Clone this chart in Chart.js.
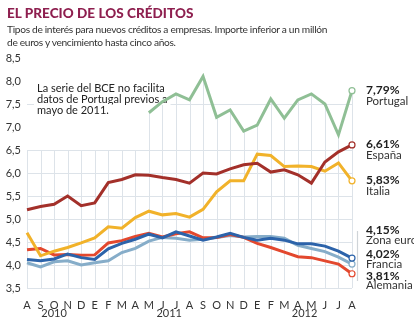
<!DOCTYPE html>
<html>
<head>
<meta charset="utf-8">
<script src="https://cdn.jsdelivr.net/npm/chart.js@4"></script>
<style>
  html, body { margin: 0; padding: 0; background: #fff; }
  #wrap { position: relative; width: 414px; height: 322px; overflow: hidden; }
  #chart { position: absolute; left: 0; top: 0; }
  .txt { position: absolute; left: 7px; font-family: Lato, sans-serif; white-space: nowrap; }
  #title { top: 5px; font-weight: 900; font-size: 13.5px; color: #8e1f4f; letter-spacing: 0.05px; }
  #sub { top: 23px; font-size: 10.2px; line-height: 13px; color: #333; letter-spacing: -0.32px; }
</style>
</head>
<body>
<div id="wrap">
  <canvas id="chart" width="414" height="322"></canvas>
  <div id="title" class="txt">EL PRECIO DE LOS CRÉDITOS</div>
  <div id="sub" class="txt">Tipos de interés para nuevos créditos a empresas. Importe inferior a un millón<br>de euros y vencimiento hasta cinco años.</div>
</div>
<script>
// meses ago-2010 .. ago-2012
const months = ['A','S','O','N','D','E','F','M','A','M','J','J','A','S','O','N','D','E','F','M','A','M','J','J','A'];
const years = ['2010', '2011', '2012'];
const yearFirst = [0, 5, 17];
const yearLast = [4, 16, 24];

const portugal = [null,null,null,null,null,null,null,null,null,
  7.31,7.55,7.72,7.59,8.10,7.21,7.37,6.91,7.04,7.61,7.19,7.59,7.72,7.50,6.83,7.79];
const espana = [5.20,5.27,5.32,5.50,5.29,5.35,5.79,5.86,5.96,5.95,5.90,5.86,5.78,6.00,5.98,6.09,6.18,6.21,6.02,6.07,5.96,5.78,6.24,6.46,6.61];
const italia = [4.70,4.20,4.30,4.38,4.48,4.59,4.83,4.80,5.03,5.17,5.09,5.12,5.04,5.21,5.59,5.83,5.83,6.41,6.38,6.14,6.15,6.14,6.04,6.22,5.83];
const alemania = [4.33,4.36,4.22,4.23,4.21,4.22,4.48,4.53,4.62,4.69,4.61,4.68,4.72,4.59,4.60,4.66,4.60,4.47,4.38,4.28,4.18,4.16,4.09,4.02,3.81];
const zonaEuro = [4.12,4.09,4.13,4.24,4.16,4.12,4.35,4.47,4.56,4.67,4.59,4.72,4.63,4.54,4.61,4.69,4.60,4.54,4.58,4.54,4.46,4.46,4.41,4.30,4.15];
const francia = [4.05,3.96,4.07,4.09,4.00,4.05,4.09,4.27,4.36,4.52,4.60,4.58,4.54,4.56,4.60,4.64,4.61,4.62,4.62,4.58,4.43,4.36,4.29,4.17,4.02];

const endValues = ['7,79%', '6,61%', '5,83%', '4,15%', '4,02%', '3,81%'];
const endNames = ['Portugal', 'España', 'Italia', 'Zona euro', 'Francia', 'Alemania'];
const note = ['La serie del BCE no facilita', 'datos de Portugal previos a', 'mayo de 2011.'];

// layout of the right-hand labels (pixel y of value / name)
const endLabelY = [[90, 101], [144, 155.5], [180, 191], [230.5, 240], [254, 264], [276, 285]];

const FONT = "Lato, sans-serif";
const GRID = '#dde3e9';

function line(label, data, color) {
  return {
    label: label,
    data: data,
    borderColor: color,
    borderWidth: 3,
    backgroundColor: '#fff',
    pointRadius: ctx => ctx.dataIndex === data.length - 1 ? 3 : 0,
    pointBorderWidth: 1.2,
    pointBackgroundColor: '#fff',
    pointBorderColor: color,
    tension: 0,
    clip: false,
    spanGaps: false
  };
}

const decor = {
  id: 'decor',
  beforeDatasetsDraw(chart) {
    const ctx = chart.ctx, x = chart.scales.x, y = chart.scales.y, a = chart.chartArea;
    ctx.save();
    // vertical grid: below 6.5 on the left, up to the Portugal line once it starts
    ctx.strokeStyle = GRID; ctx.lineWidth = 1;
    months.forEach((m, i) => {
      const px = Math.round(x.getPixelForValue(i)) + 0.5;
      const top = portugal[i] != null ? y.getPixelForValue(portugal[i]) : y.getPixelForValue(6.5);
      ctx.beginPath(); ctx.moveTo(px, top); ctx.lineTo(px, a.bottom); ctx.stroke();
    });
    // note with white background
    ctx.font = '11px ' + FONT;
    ctx.textBaseline = 'middle';
    note.forEach((t, i) => {
      const ty = 88 + i * 11;
      const w = ctx.measureText(t).width;
      ctx.fillStyle = '#fff';
      ctx.fillRect(34, ty - 6, w + 6, 12);
      ctx.fillStyle = '#222';
      ctx.fillText(t, 37, ty);
    });
    ctx.restore();
  },
  afterDraw(chart) {
    const ctx = chart.ctx, x = chart.scales.x;
    ctx.save();
    // years
    ctx.font = '11px ' + FONT;
    ctx.fillStyle = '#333';
    ctx.textAlign = 'center';
    ctx.textBaseline = 'middle';
    years.forEach((yr, i) => {
      const cx = (x.getPixelForValue(yearFirst[i]) + x.getPixelForValue(yearLast[i])) / 2;
      ctx.fillText(yr, cx, 313);
    });
    // bracket for the lower group
    ctx.strokeStyle = '#cfd4d8';
    ctx.beginPath(); ctx.moveTo(357.5, 231); ctx.lineTo(357.5, 281); ctx.stroke();
    // end labels
    ctx.textAlign = 'left';
    endValues.forEach((v, i) => {
      ctx.fillStyle = '#1e1e1e';
      ctx.font = 'bold 12px ' + FONT;
      ctx.fillText(v, 366, endLabelY[i][0]);
      ctx.fillStyle = '#333';
      ctx.font = '11.5px ' + FONT;
      ctx.fillText(endNames[i], 366, endLabelY[i][1]);
    });
    ctx.restore();
  }
};

new Chart(document.getElementById('chart').getContext('2d'), {
  type: 'line',
  data: {
    labels: months,
    datasets: [
      line('Portugal', portugal, '#8fbf95'),
      line('España', espana, '#a3302a'),
      line('Italia', italia, '#f1b22a'),
      line('Zona euro', zonaEuro, '#2c63aa'),
      line('Alemania', alemania, '#e3482e'),
      line('Francia', francia, '#86adc9')
    ]
  },
  options: {
    responsive: false,
    animation: false,
    devicePixelRatio: 1,
    layout: { padding: { top: 58, right: 62, left: 0, bottom: 0 } },
    plugins: { legend: { display: false }, tooltip: { enabled: false } },
    scales: {
      x: {
        offset: false,
        grid: { display: false },
        border: { display: false },
        ticks: { autoSkip: false, maxRotation: 0, padding: 3, color: '#333', font: { family: FONT, size: 11 } },
        afterFit: s => { s.height = 34; }
      },
      y: {
        min: 3.5, max: 8.5,
        border: { display: false },
        grid: {
          drawTicks: false,
          color: c => [7, 8, 8.5].includes(c.tick && c.tick.value) ? 'rgba(0,0,0,0)' : GRID
        },
        ticks: {
          stepSize: 0.5, padding: 6, color: '#333',
          font: { family: FONT, size: 11 },
          callback: v => v.toFixed(1).replace('.', ',')
        },
        afterFit: s => { s.width = 27; }
      }
    }
  },
  plugins: [decor]
});
</script>
</body>
</html>
